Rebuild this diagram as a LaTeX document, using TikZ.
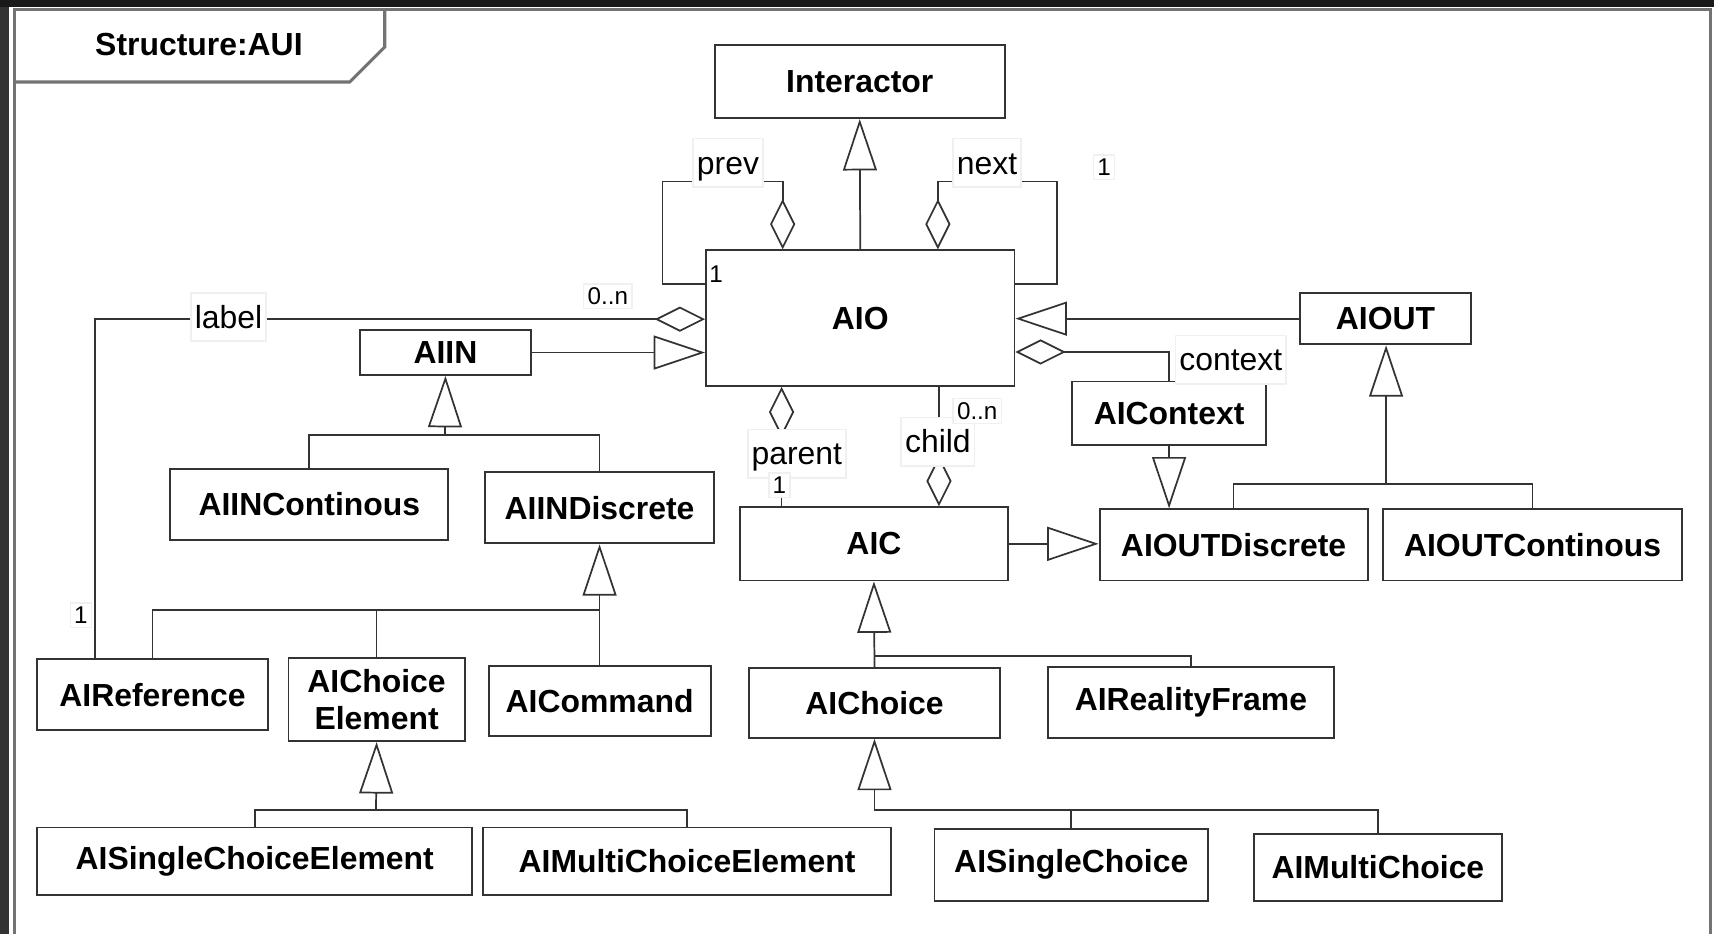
\documentclass[tikz,border=0pt]{standalone}
\usepackage{fontspec}
\setmainfont{Liberation Sans}
\usetikzlibrary{arrows.meta}

\tikzset{
  cls/.style={draw=black!80, line width=0.5pt, fill=white, font=\fontsize{8.3}{9.6}\selectfont\bfseries, align=center, inner sep=0pt},
  role/.style={fill=white, draw=black!6, font=\fontsize{8.3}{9}\selectfont, inner sep=1pt, text height=1.55ex, text depth=0.45ex},
  mult/.style={fill=white, draw=black!6, font=\fontsize{6.3}{7}\selectfont, inner sep=1pt},
  conn/.style={draw=black!80, line width=0.45pt},
  gen/.style={conn, -{Triangle[open, length=4.7mm, width=3.1mm]}},
  agg/.style={conn, -{Diamond[open, length=4.6mm, width=2.3mm]}},
  frameline/.style={draw=black!55, line width=0.8pt}
}

\begin{document}
\begin{tikzpicture}[x=0.01cm, y=-0.01cm]
		% page and frame
		\useasboundingbox (0,0) rectangle (1568,854);
		\fill[white] (0,0) rectangle (1568,854);
		\fill[black!80] (0,0) rectangle (8,854);
		\fill[black!90] (0,0) rectangle (1568,6);
		\draw[frameline] (13,854) -- (13,9) -- (1565,9) -- (1565,854);
		\draw[frameline] (13,75) -- (320,75) -- (352,43) -- (352,9);
		\node[font=\fontsize{8.3}{9.6}\selectfont\bfseries] (title) at (182,41) {Structure:AUI};

		% classes
		\node[cls, minimum width=2.65cm, minimum height=0.67cm] (Interactor) at (786.5,74.5) {Interactor};
		\node[cls, minimum width=2.82cm, minimum height=1.24cm] (AIO) at (787,291) {AIO};
		\node[cls, minimum width=1.57cm, minimum height=0.41cm] (AIIN) at (407.5,322.5) {AIIN};
		\node[cls, minimum width=1.57cm, minimum height=0.47cm] (AIOUT) at (1267.5,291.5) {AIOUT};
		\node[cls, minimum width=1.77cm, minimum height=0.58cm] (AIContext) at (1069.5,378) {AIContext};
		\node[cls, minimum width=2.54cm, minimum height=0.65cm] (AIINContinous) at (283,461.5) {AIINContinous};
		\node[cls, minimum width=2.09cm, minimum height=0.65cm] (AIINDiscrete) at (548.5,464.5) {AIINDiscrete};
		\node[cls, minimum width=2.45cm, minimum height=0.67cm] (AIC) at (799.5,497.5) {AIC};
		\node[cls, minimum width=2.45cm, minimum height=0.65cm] (AIOUTDiscrete) at (1128.5,498.5) {AIOUTDiscrete};
		\node[cls, minimum width=2.74cm, minimum height=0.65cm] (AIOUTContinous) at (1402,498.5) {AIOUTContinous};
		\node[cls, minimum width=2.11cm, minimum height=0.65cm] (AIReference) at (139.5,635.5) {AIReference};
		\node[cls, minimum width=1.61cm, minimum height=0.76cm] (AIChoiceElement) at (344.5,640) {AIChoice\\Element};
		\node[cls, minimum width=2.03cm, minimum height=0.64cm] (AICommand) at (548.5,641) {AICommand};
		\node[cls, minimum width=2.30cm, minimum height=0.64cm] (AIChoice) at (800,643) {AIChoice};
		\node[cls, minimum width=2.61cm, minimum height=0.65cm] (AIRealityFrame) at (1089.5,642.5) {AIRealityFrame};
		\node[cls, minimum width=3.98cm, minimum height=0.62cm] (AISingleChoiceElement) at (233,788) {AISingleChoiceElement};
		\node[cls, minimum width=3.73cm, minimum height=0.62cm] (AIMultiChoiceElement) at (628.5,788) {AIMultiChoiceElement};
		\node[cls, minimum width=2.50cm, minimum height=0.66cm] (AISingleChoice) at (980,791) {AISingleChoice};
		\node[cls, minimum width=2.27cm, minimum height=0.61cm] (AIMultiChoice) at (1260.5,793.5) {AIMultiChoice};

		% bend points and junctions
		\coordinate (pv1) at (606,260);
		\coordinate (pv2) at (606,166);
		\coordinate (pv3) at (716,166);
		\coordinate (nx1) at (967,260);
		\coordinate (nx2) at (967,166);
		\coordinate (nx3) at (858,166);
		\coordinate (lb1) at (87,292);
		\coordinate (ctx) at (1069,322);
		\coordinate (pa) at (715,464);
		\coordinate (ch) at (859,357);
		\coordinate (jIN) at (407,398);
		\coordinate (jOUT) at (1268,443);
		\coordinate (jDis) at (548,558);
		\coordinate (jC) at (800,600);
		\coordinate (jCE) at (344,741);
		\coordinate (jCh) at (800,741);

		% associations
		\draw[gen] (AIO.north) -- (Interactor.south);
		\draw[agg] (AIO.west |- pv1) -- (pv1) -- (pv2) -- (pv3) -- (pv3 |- AIO.north);
		\draw[agg] (AIO.east |- nx1) -- (nx1) -- (nx2) -- (nx3) -- (nx3 |- AIO.north);
		\draw[agg] (lb1 |- AIReference.north) -- (lb1) -- (lb1 -| AIO.west);
		\draw[gen] (AIIN.east) -- (AIIN.east -| AIO.west);
		\draw[gen] (AIOUT.west) -- (AIOUT.west -| AIO.east);
		\draw[agg] (AIContext.north) |- (ctx -| AIO.east);
		\draw[gen] (AIContext.south) -- (AIContext.south |- AIOUTDiscrete.north);
		\draw[agg] (pa) -- (pa |- AIO.south);
		\draw[agg] (ch |- AIO.south) -- (ch |- AIC.north);
		\draw[gen] (AIC.east) -- (AIC.east -| AIOUTDiscrete.west);

		% inheritance trees
		\draw[conn] (AIINContinous.north) |- (jIN) -| (AIINDiscrete.north);
		\draw[gen] (jIN) -- (AIIN.south);
		\draw[conn] (AIOUTDiscrete.north) |- (jOUT) -| (AIOUTContinous.north);
		\draw[gen] (jOUT) -- (jOUT |- AIOUT.south);
		\draw[conn] (AIReference.north) |- (jDis);
		\draw[conn] (AIChoiceElement.north) -- (AIChoiceElement.north |- jDis);
		\draw[gen] (AICommand.north) -- (AIINDiscrete.south);
		\draw[gen] (AIChoice.north) -- (AIC.south);
		\draw[conn] (jC) -| (AIRealityFrame.north);
		\draw[conn] (AISingleChoiceElement.north) |- (jCE) -| (AIMultiChoiceElement.north);
		\draw[gen] (jCE) -- (AIChoiceElement.south);
		\draw[conn] (jCh) -| (AIMultiChoice.north);
		\draw[conn] (AISingleChoice.north) -- (AISingleChoice.north |- jCh);
		\draw[gen] (jCh) -- (AIChoice.south);

		% roles and multiplicities
		\node[role] (prev) at (666,149) {prev};
		\node[role] (next) at (903,149) {next};
		\node[role] (lbl) at (209,290) {label};
		\node[role] (context) at (1126,329) {context};
		\node[role] (parent) at (729,415) {parent};
		\node[role] (child) at (858,404) {child};
		\node[mult] (m1) at (556,271) {0..n};
		\node[mult, fill=none, draw=none] (m2) at (655,251) {1};
		\node[mult] (m3) at (1010,153) {1};
		\node[mult] (m4) at (74,563) {1};
		\node[mult] (m5) at (713,444) {1};
		\node[mult] (m6) at (894,376) {0..n};
\end{tikzpicture}
\end{document}
